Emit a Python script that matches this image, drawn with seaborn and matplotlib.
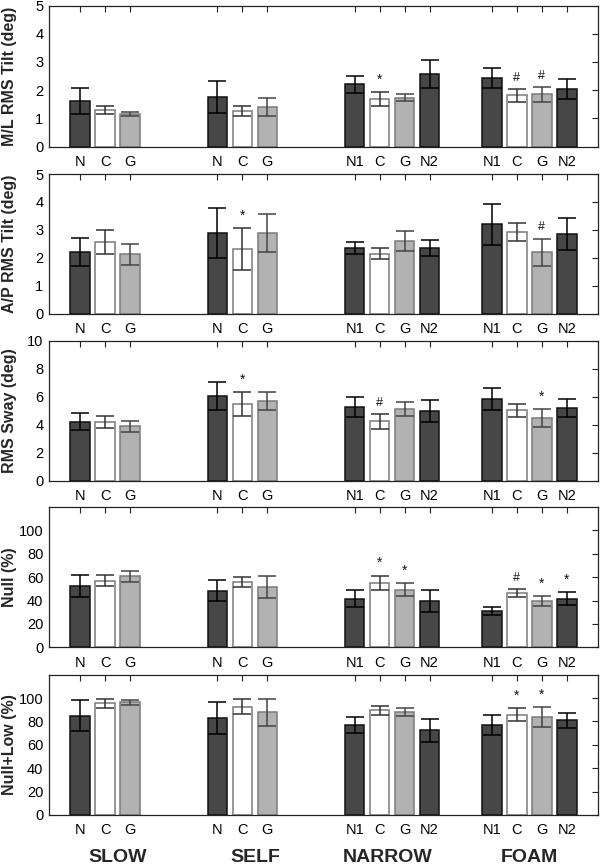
import numpy as np
import pandas as pd
import seaborn as sns
import matplotlib.pyplot as plt
import matplotlib.transforms as mtransforms

# bar positions and labels (same for all panels)
positions = [1, 2, 3, 6.5, 7.5, 8.5, 12, 13, 14, 15, 17.5, 18.5, 19.5, 20.5]
labels = ['N', 'C', 'G', 'N', 'C', 'G', 'N1', 'C', 'G', 'N2', 'N1', 'C', 'G', 'N2']
groups = ['SLOW', 'SELF', 'NARROW', 'FOAM']
group_x = [2.5, 8.0, 13.3, 19.0]

# mean and SD
ml_mean = [1.61, 1.29, 1.15, 1.76, 1.25, 1.40, 2.20, 1.68, 1.73, 2.56, 2.44, 1.81, 1.85, 2.04]
ml_sd = [0.47, 0.14, 0.06, 0.56, 0.18, 0.32, 0.31, 0.24, 0.12, 0.50, 0.35, 0.22, 0.26, 0.34]
ap_mean = [2.21, 2.57, 2.12, 2.88, 2.32, 2.88, 2.36, 2.15, 2.60, 2.36, 3.20, 2.92, 2.20, 2.85]
ap_sd = [0.51, 0.43, 0.38, 0.90, 0.75, 0.68, 0.21, 0.20, 0.35, 0.28, 0.74, 0.32, 0.48, 0.56]
sway_mean = [4.21, 4.21, 3.90, 6.05, 5.50, 5.67, 5.26, 4.24, 5.12, 4.98, 5.83, 5.02, 4.48, 5.19]
sway_sd = [0.60, 0.43, 0.40, 0.98, 0.85, 0.64, 0.72, 0.52, 0.52, 0.80, 0.80, 0.48, 0.63, 0.63]
null_mean = [52.1, 57.0, 60.7, 48.4, 56.1, 51.3, 41.6, 55.0, 49.3, 39.9, 31.3, 46.4, 39.9, 41.6]
null_sd = [9.5, 4.7, 4.5, 9.0, 4.1, 9.4, 7.3, 6.4, 5.4, 9.4, 3.3, 3.3, 4.3, 5.8]
nl_mean = [84.9, 95.4, 96.3, 82.9, 92.6, 87.7, 77.2, 89.5, 87.7, 72.4, 77.2, 85.8, 83.8, 80.9]
nl_sd = [13.3, 3.7, 2.2, 13.5, 6.6, 11.4, 6.7, 3.8, 3.4, 9.8, 8.4, 5.7, 8.7, 6.7]

# significance marks: bar index -> symbol
ml_marks = {7: '*', 11: '#', 12: '#'}
ap_marks = {4: '*', 12: '#'}
sway_marks = {4: '*', 7: '#', 12: '*'}
null_marks = {7: '*', 8: '*', 11: '#', 12: '*', 13: '*'}
nl_marks = {11: '*', 12: '*'}

panels = [
    ('M/L RMS Tilt (deg)', ml_mean, ml_sd, ml_marks, 5, np.arange(0, 6, 1)),
    ('A/P RMS Tilt (deg)', ap_mean, ap_sd, ap_marks, 5, np.arange(0, 6, 1)),
    ('RMS Sway (deg)', sway_mean, sway_sd, sway_marks, 10, np.arange(0, 12, 2)),
    ('Null (%)', null_mean, null_sd, null_marks, 120, np.arange(0, 120, 20)),
    ('Null+Low (%)', nl_mean, nl_sd, nl_marks, 120, np.arange(0, 120, 20)),
]

kinds = ['dark' if l.startswith('N') else l for l in labels]
fill = {'dark': '#474747', 'C': '#ffffff', 'G': '#b2b2b2'}
edge = {'dark': '#111111', 'C': '#7a7a7a', 'G': '#7a7a7a'}
errc = {'dark': '#000000', 'C': '#333333', 'G': '#444444'}

sns.set_theme(style='white')
plt.rcParams['font.family'] = ['Liberation Sans', 'DejaVu Sans']

fig = plt.figure(figsize=(6, 8.68), dpi=100)
H = 868.0
tops = [5.5, 174.0, 340.5, 507.0, 674.6]
bottoms = [146.5, 313.7, 481.0, 647.3, 815.0]

for i, (ylab, mean, sd, marks, ymax, yticks) in enumerate(panels):
    ax = fig.add_axes([49 / 600, 1 - bottoms[i] / H, 549 / 600, (bottoms[i] - tops[i]) / H])
    df = pd.DataFrame({'pos': positions, 'value': mean, 'sd': sd, 'kind': kinds})
    sns.barplot(data=df, x='pos', y='value', hue='kind', native_scale=True, dodge=False,
                palette=fill, hue_order=['dark', 'C', 'G'], width=0.78, errorbar=None,
                legend=False, ax=ax, zorder=2)
    for p in ax.patches:
        fc = p.get_facecolor()
        for k, c in fill.items():
            if np.allclose(fc[:3], plt.matplotlib.colors.to_rgb(c), atol=0.02):
                p.set_edgecolor(edge[k])
        p.set_linewidth(1.1)
    for k in ['dark', 'C', 'G']:
        sub = df[df['kind'] == k]
        ax.errorbar(sub['pos'], sub['value'], yerr=sub['sd'], fmt='none', ecolor=errc[k],
                    elinewidth=1.1, capsize=6.5, capthick=1.1, zorder=3)
    for idx, sym in marks.items():
        ax.annotate(sym, (positions[idx], mean[idx] + sd[idx]), xytext=(0, 6),
                    textcoords='offset points', ha='center', va='baseline',
                    fontsize=10 if sym == '*' else 9, color='#111111')
    ax.set_xlim(-0.25, 21.75)
    ax.set_ylim(0, ymax)
    ax.set_yticks(yticks)
    ax.set_xticks(positions, labels)
    ax.set_xlabel('')
    ax.set_ylabel(ylab, fontsize=11.5, fontweight='bold')
    ax.yaxis.set_label_coords(-0.058, 0.5)
    ax.tick_params(axis='both', direction='in', top=True, right=True, length=4,
                   width=0.8, colors='#222222', labelcolor='black', labelsize=10.5)
    ax.tick_params(axis='x', pad=6)
    ax.tick_params(axis='y', pad=4)
    for s in ax.spines.values():
        s.set_visible(True)
        s.set_color('#222222')
        s.set_linewidth(0.9)
    if i == len(panels) - 1:
        tr = mtransforms.blended_transform_factory(ax.transData, ax.transAxes)
        for gx, g in zip(group_x, groups):
            ax.text(gx, -0.3, g, transform=tr, ha='center', va='center',
                    fontsize=14, fontweight='bold')

fig.savefig('out.png', dpi=100)
